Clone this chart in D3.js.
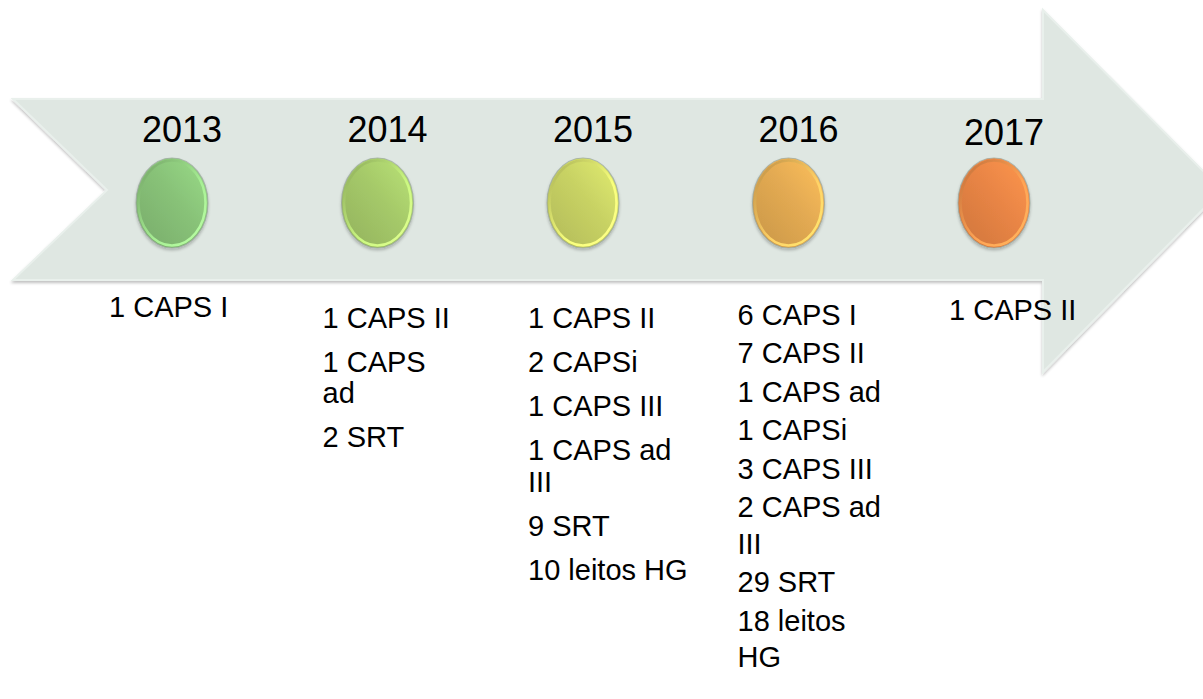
<!DOCTYPE html>
<html>
<head>
<meta charset="utf-8">
<script src="https://cdn.jsdelivr.net/npm/d3@7"></script>
<style>
  html, body { margin: 0; padding: 0; background: #fff; }
  svg { display: block; font-family: "Liberation Sans", Arial, sans-serif; }
</style>
</head>
<body>
<svg id="chart" width="1203" height="699"></svg>
<script>
// ***** Data *****
const years = ["2013", "2014", "2015", "2016", "2017"];

const services2013 = ["1 CAPS I"];
const services2014 = ["1 CAPS II", "1 CAPS ad", "2 SRT"];
const services2015 = ["1 CAPS II", "2 CAPSi", "1 CAPS III", "1 CAPS ad III", "9 SRT", "10 leitos HG"];
const services2016 = ["6 CAPS I", "7 CAPS II", "1 CAPS ad", "1 CAPSi", "3 CAPS III", "2 CAPS ad III", "29 SRT", "18 leitos HG"];
const services2017 = ["1 CAPS II"];

const services = [services2013, services2014, services2015, services2016, services2017];

// bead colours, left to right
const beadColors = ["#88c278", "#a5c969", "#c8d264", "#e3aa52", "#e98545"];

// text block layout for each year (offset from bead centre, first baseline, spacing, wrap width)
const listLayout = [
  { dx: -63, y: 317, para: 44, wrap: 32, w: 150 },
  { dx: -55, y: 328, para: 44, wrap: 31, w: 136 },
  { dx: -55, y: 328, para: 44, wrap: 32, w: 166 },
  { dx: -51, y: 325, para: 38.4, wrap: 36.7, w: 152 },
  { dx: -45, y: 320, para: 44, wrap: 32, w: 150 }
];

const svg = d3.select("#chart");
const defs = svg.append("defs");

// ***** Scale *****
const xScale = d3.scalePoint().domain(years).range([172, 994]);

// ***** Arrow *****
const arrowTop = 99, arrowBottom = 280, arrowMid = 190;
const headX = 1043, headTop = 10, headBottom = 372, tipX = 1222, notchX = 107, tailX = 13;

const arrowPts = [
  [tailX, arrowTop], [headX, arrowTop], [headX, headTop], [tipX, arrowMid],
  [headX, headBottom], [headX, arrowBottom], [tailX, arrowBottom], [notchX, arrowMid]
];

const shadow = defs.append("filter").attr("id", "soft")
  .attr("x", "-10%").attr("y", "-10%").attr("width", "120%").attr("height", "120%");
shadow.append("feGaussianBlur").attr("in", "SourceAlpha").attr("stdDeviation", 1.5);
shadow.append("feOffset").attr("dy", 1.5).attr("result", "b");
shadow.append("feComponentTransfer").append("feFuncA").attr("type", "linear").attr("slope", 0.25);
const merge = shadow.append("feMerge");
merge.append("feMergeNode");
merge.append("feMergeNode").attr("in", "SourceGraphic");

svg.append("polygon")
  .attr("points", arrowPts.map(p => p.join(",")).join(" "))
  .attr("fill", "#dfe7e2")
  .attr("stroke", "#e9f0ec")
  .attr("stroke-width", 2)
  .attr("filter", "url(#soft)");

// ***** Beads *****
beadColors.forEach(function(c, i) {
  // body: darker lower left, lighter upper right
  const g = defs.append("linearGradient").attr("id", "bead" + i)
    .attr("x1", "0%").attr("y1", "100%").attr("x2", "100%").attr("y2", "0%");
  g.append("stop").attr("offset", "0%").attr("stop-color", d3.color(c).darker(0.35));
  g.append("stop").attr("offset", "55%").attr("stop-color", c);
  g.append("stop").attr("offset", "100%").attr("stop-color", d3.color(c).brighter(0.35));
  // rim highlight
  const r = defs.append("linearGradient").attr("id", "rim" + i)
    .attr("x1", "0%").attr("y1", "0%").attr("x2", "100%").attr("y2", "100%");
  r.append("stop").attr("offset", "0%").attr("stop-color", d3.color(c).darker(0.5));
  r.append("stop").attr("offset", "60%").attr("stop-color", d3.color(c).brighter(0.6));
  r.append("stop").attr("offset", "100%").attr("stop-color", d3.color(c).brighter(0.9));
});

const beads = svg.selectAll(".bead")
  .data(years)
  .enter()
  .append("g")
  .attr("class", "bead")
  .attr("transform", d => "translate(" + xScale(d) + ",203)");

beads.append("ellipse")
  .attr("rx", 36)
  .attr("ry", 45)
  .attr("fill", (d, i) => "url(#bead" + i + ")")
  .attr("stroke", "#9aa69c")
  .attr("stroke-opacity", 0.7)
  .attr("stroke-width", 1.2)
  .attr("filter", "url(#soft)");

beads.append("ellipse")
  .attr("rx", 33.5)
  .attr("ry", 42.5)
  .attr("fill", "none")
  .attr("stroke", (d, i) => "url(#rim" + i + ")")
  .attr("stroke-width", 2.5);

// ***** Year labels *****
svg.selectAll(".year")
  .data(years)
  .enter()
  .append("text")
  .attr("class", "year")
  .attr("x", d => xScale(d) + 10)
  .attr("y", (d, i) => i === 4 ? 145 : 142)
  .attr("text-anchor", "middle")
  .attr("font-size", 36)
  .attr("fill", "#000")
  .text(d => d);

// ***** Service lists *****
function wrapWords(textSel, str, width) {
  const words = str.split(" ");
  const lines = [];
  let line = words[0];
  for (let k = 1; k < words.length; k++) {
    const test = line + " " + words[k];
    textSel.text(test);
    if (textSel.node().getComputedTextLength() > width) {
      lines.push(line);
      line = words[k];
    } else {
      line = test;
    }
  }
  lines.push(line);
  textSel.text(null);
  return lines;
}

services.forEach(function(list, i) {
  const lay = listLayout[i];
  const x0 = xScale(years[i]) + lay.dx;
  let y = lay.y;
  list.forEach(function(item) {
    const t = svg.append("text")
      .attr("class", "item")
      .attr("x", x0)
      .attr("font-size", 29)
      .attr("fill", "#000");
    const lines = wrapWords(t, item, lay.w);
    lines.forEach(function(ln, j) {
      t.append("tspan")
        .attr("x", x0)
        .attr("y", y + j * lay.wrap)
        .text(ln);
    });
    y += (lines.length - 1) * lay.wrap + lay.para;
  });
});
</script>
</body>
</html>
